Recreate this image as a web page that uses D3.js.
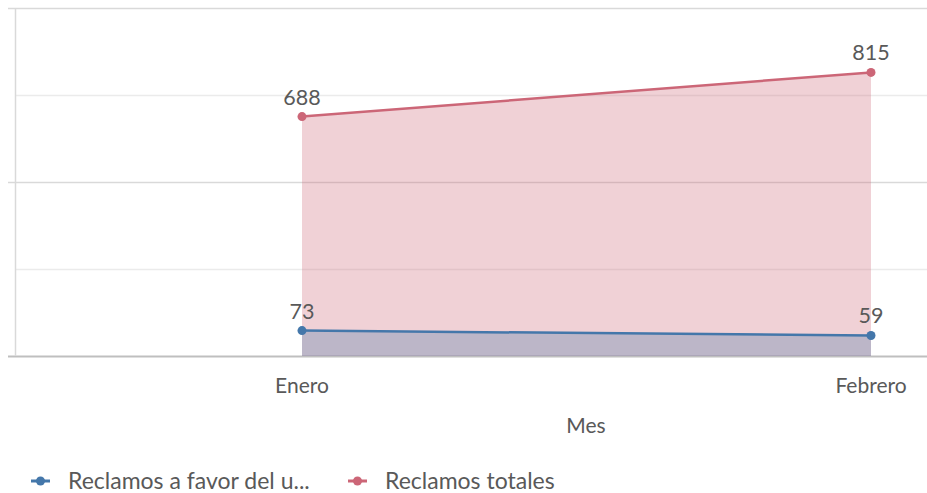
<!DOCTYPE html>
<html><head><meta charset="utf-8">
<script src="https://cdn.jsdelivr.net/npm/d3@7"></script>
<style>
html,body{margin:0;padding:0;background:#fff;}
svg{display:block;font-family:"Lato","Open Sans",sans-serif;}
</style></head>
<body><svg id="chart" width="927" height="493"></svg>
<script>
const months = ["Enero", "Febrero"];
const reclamosFavor = [73, 59];
const reclamosTotales = [688, 815];
const seriesNames = ["Reclamos a favor del u...", "Reclamos totales"];
const seriesColors = ["#4477aa", "#cc6677"];
const yTicks = [0, 250, 500, 750, 1000];
const xTitle = "Mes";

const svg = d3.select("#chart");
const x = d3.scalePoint().domain(months).range([302, 871]);
const y = d3.scaleLinear().domain([0, 1000]).range([356, 8]);
const left = 15, right = 927;

// gridlines
svg.append("g").selectAll("line").data(yTicks).join("line")
  .attr("x1", d => d % 500 === 0 ? 8 : left).attr("x2", right)
  .attr("y1", d => Math.round(y(d)) + 0.5).attr("y2", d => Math.round(y(d)) + 0.5)
  .attr("stroke", d => d === 0 ? "#bfbfbf" : (d % 500 === 0 ? "#d9d9d9" : "#ebebeb"))
  .attr("stroke-width", d => d === 0 ? 2 : 1.5);
// left axis line
svg.append("line").attr("x1", left + 0.5).attr("x2", left + 0.5)
  .attr("y1", y(1000)).attr("y2", y(0)).attr("stroke", "#d9d9d9").attr("stroke-width", 1.5);

const series = [
  {name: seriesNames[1], values: reclamosTotales, color: seriesColors[1]},
  {name: seriesNames[0], values: reclamosFavor, color: seriesColors[0]}
];

const area = d3.area().x((d, i) => x(months[i])).y0(y(0)).y1(d => y(d));
const line = d3.line().x((d, i) => x(months[i])).y(d => y(d));

series.forEach(s => {
  svg.append("path").datum(s.values).attr("d", area)
    .attr("fill", s.color).attr("fill-opacity", 0.3);
});
series.forEach(s => {
  svg.append("path").datum(s.values).attr("d", line)
    .attr("fill", "none").attr("stroke", s.color).attr("stroke-width", 2.5);
  svg.append("g").selectAll("circle").data(s.values).join("circle")
    .attr("cx", (d, i) => x(months[i])).attr("cy", d => y(d)).attr("r", 4.5)
    .attr("fill", s.color);
  svg.append("g").selectAll("text").data(s.values).join("text")
    .attr("x", (d, i) => x(months[i])).attr("y", d => y(d) - 12)
    .attr("text-anchor", "middle").attr("font-size", 21.5).attr("fill", "#595959")
    .text(d => d);
});

// x axis labels
svg.append("g").selectAll("text").data(months).join("text")
  .attr("x", d => x(d)).attr("y", 393).attr("text-anchor", "middle")
  .attr("font-size", 21).attr("fill", "#595959").text(d => d);
svg.append("text").attr("x", 586).attr("y", 433).attr("text-anchor", "middle")
  .attr("font-size", 21).attr("fill", "#595959").text(xTitle);

// legend
const legendItems = [
  {name: seriesNames[0], color: seriesColors[0], x: 31},
  {name: seriesNames[1], color: seriesColors[1], x: 348}
];
const lg = svg.append("g").selectAll("g").data(legendItems).join("g")
  .attr("transform", d => `translate(${d.x},481)`);
lg.append("line").attr("x1", 0).attr("x2", 19).attr("y1", 0).attr("y2", 0)
  .attr("stroke", d => d.color).attr("stroke-width", 3);
lg.append("circle").attr("cx", 9.5).attr("cy", 0).attr("r", 4.5).attr("fill", d => d.color);
lg.append("text").attr("x", 37).attr("y", 8).attr("font-size", 23)
  .attr("fill", "#595959").text(d => d.name);
</script></body></html>
